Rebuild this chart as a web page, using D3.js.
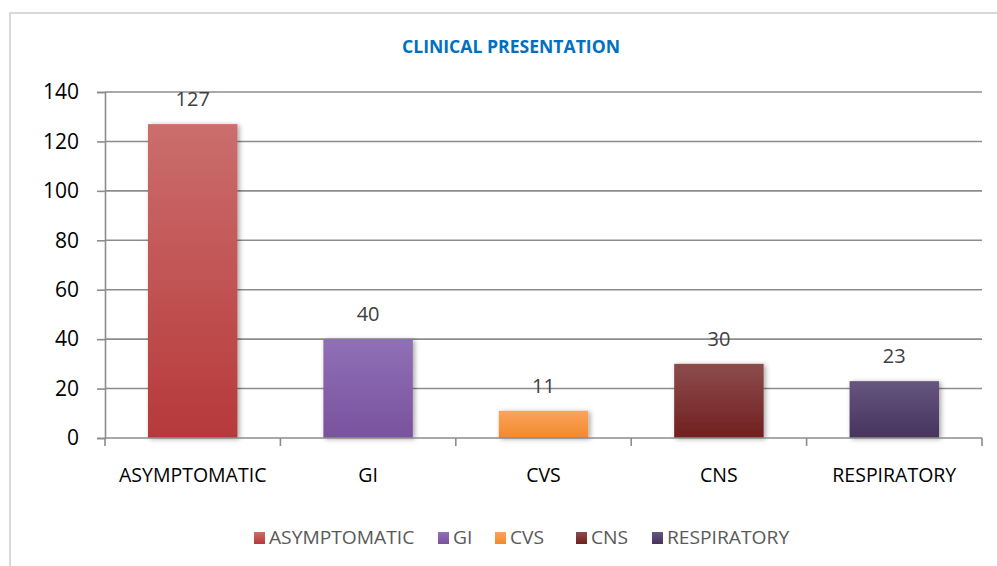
<!DOCTYPE html>
<html>
<head>
<meta charset="utf-8">
<script src="https://cdn.jsdelivr.net/npm/d3@7/dist/d3.min.js"></script>
<style>
  body { margin: 0; background: #fff; }
  svg { display: block; font-family: "Open Sans", "Liberation Sans", sans-serif; }
</style>
</head>
<body>
<div id="chart"></div>
<script>
// chart data
var categories = ["ASYMPTOMATIC", "GI", "CVS", "CNS", "RESPIRATORY"];
var values = [127, 40, 11, 30, 23];
var y_ticks = [0, 20, 40, 60, 80, 100, 120, 140];
var colors_top = ["#CB6E6C", "#8F70B5", "#FBA35E", "#8C4C4C", "#66567D"];
var colors_bottom = ["#B7393A", "#7A529E", "#F2892B", "#711F1E", "#46335D"];

var W = 997, H = 566;
var margin = {top: 92, right: 15, bottom: 128, left: 105};
var width = 982 - margin.left;
var height = 438 - margin.top;

var svg = d3.select("#chart").append("svg")
    .attr("width", W)
    .attr("height", H);

// outer frame
svg.append("rect")
    .attr("x", 10).attr("y", 13)
    .attr("width", W + 10).attr("height", H + 10)
    .attr("fill", "none")
    .attr("stroke", "#D9D9D9")
    .attr("stroke-width", 2);

var defs = svg.append("defs");
categories.forEach(function(c, i) {
  var g = defs.append("linearGradient")
      .attr("id", "grad" + i)
      .attr("x1", 0).attr("y1", 0).attr("x2", 0).attr("y2", 1);
  g.append("stop").attr("offset", "0%").attr("stop-color", colors_top[i]);
  g.append("stop").attr("offset", "100%").attr("stop-color", colors_bottom[i]);
});
var f = defs.append("filter").attr("id", "shadow")
    .attr("x", "-20%").attr("y", "-20%").attr("width", "140%").attr("height", "140%");
f.append("feDropShadow")
    .attr("dx", 2).attr("dy", 1).attr("stdDeviation", 2.5)
    .attr("flood-color", "#000").attr("flood-opacity", 0.35);

// title
svg.append("text")
    .attr("x", 511).attr("y", 53)
    .attr("text-anchor", "middle")
    .attr("font-size", 17)
    .attr("font-weight", "bold")
    .attr("fill", "#0070C0")
    .attr("textLength", 218)
    .attr("lengthAdjust", "spacingAndGlyphs")
    .text("CLINICAL PRESENTATION");

var g = svg.append("g")
    .attr("transform", "translate(" + margin.left + "," + margin.top + ")");

var x = d3.scaleBand()
    .domain(categories)
    .range([0, width])
    .paddingInner(0.49)
    .paddingOuter(0.245);

var y = d3.scaleLinear()
    .domain([0, 140])
    .range([height, 0]);

// gridlines
g.append("g")
    .selectAll("line")
    .data(y_ticks.slice(1))
    .join("line")
    .attr("x1", 0).attr("x2", width)
    .attr("y1", function(d) { return y(d); })
    .attr("y2", function(d) { return y(d); })
    .attr("stroke", "#8C8C8C")
    .attr("stroke-width", 1.6);

// y axis
var yAxis = g.append("g")
    .call(d3.axisLeft(y).tickValues(y_ticks).tickSize(8).tickPadding(18));
yAxis.select(".domain").attr("stroke", "#8C8C8C").attr("stroke-width", 1.6);
yAxis.selectAll(".tick line").attr("stroke", "#8C8C8C").attr("stroke-width", 1.6);
yAxis.selectAll("text")
    .attr("font-size", 21)
    .attr("fill", "#000")
    .attr("font-family", "'Open Sans', 'Liberation Sans', sans-serif");

// bars
g.selectAll(".bar")
    .data(values)
    .join("rect")
    .attr("class", "bar")
    .attr("x", function(d, i) { return x(categories[i]); })
    .attr("y", function(d) { return y(d); })
    .attr("width", x.bandwidth())
    .attr("height", function(d) { return height - y(d); })
    .attr("fill", function(d, i) { return "url(#grad" + i + ")"; })
    .attr("filter", "url(#shadow)");

// x axis line + ticks at category boundaries
var step = x.step();
g.append("line")
    .attr("x1", 0).attr("x2", width)
    .attr("y1", height).attr("y2", height)
    .attr("stroke", "#8C8C8C").attr("stroke-width", 1.6);
g.selectAll(".xtick")
    .data(d3.range(categories.length + 1))
    .join("line")
    .attr("class", "xtick")
    .attr("x1", function(d) { return d * step; })
    .attr("x2", function(d) { return d * step; })
    .attr("y1", height).attr("y2", height + 8)
    .attr("stroke", "#8C8C8C").attr("stroke-width", 1.6);

// category labels
g.selectAll(".xlab")
    .data(categories)
    .join("text")
    .attr("class", "xlab")
    .attr("x", function(d) { return x(d) + x.bandwidth() / 2; })
    .attr("y", height + 44)
    .attr("text-anchor", "middle")
    .attr("font-size", 19.5)
    .attr("fill", "#000")
    .text(function(d) { return d; });

// value labels
g.selectAll(".vlab")
    .data(values)
    .join("text")
    .attr("class", "vlab")
    .attr("x", function(d, i) { return x(categories[i]) + x.bandwidth() / 2; })
    .attr("y", function(d) { return y(d) - 18; })
    .attr("text-anchor", "middle")
    .attr("font-size", 20)
    .attr("fill", "#404040")
    .text(function(d) { return d; });

// legend
var legend_x = [254, 438, 495, 576, 652];
var lg = svg.append("g").attr("transform", "translate(0,544)");
var items = lg.selectAll("g")
    .data(categories)
    .join("g")
    .attr("transform", function(d, i) { return "translate(" + legend_x[i] + ",0)"; });
items.append("rect")
    .attr("x", 0).attr("y", -12)
    .attr("width", 11).attr("height", 12)
    .attr("fill", function(d, i) { return "url(#grad" + i + ")"; });
items.append("text")
    .attr("x", 15).attr("y", 0)
    .attr("font-size", 17.5)
    .attr("fill", "#595959")
    .attr("transform", "scale(1.1,1) translate(-1.4,0)")
    .text(function(d) { return d; });
</script>
</body>
</html>
